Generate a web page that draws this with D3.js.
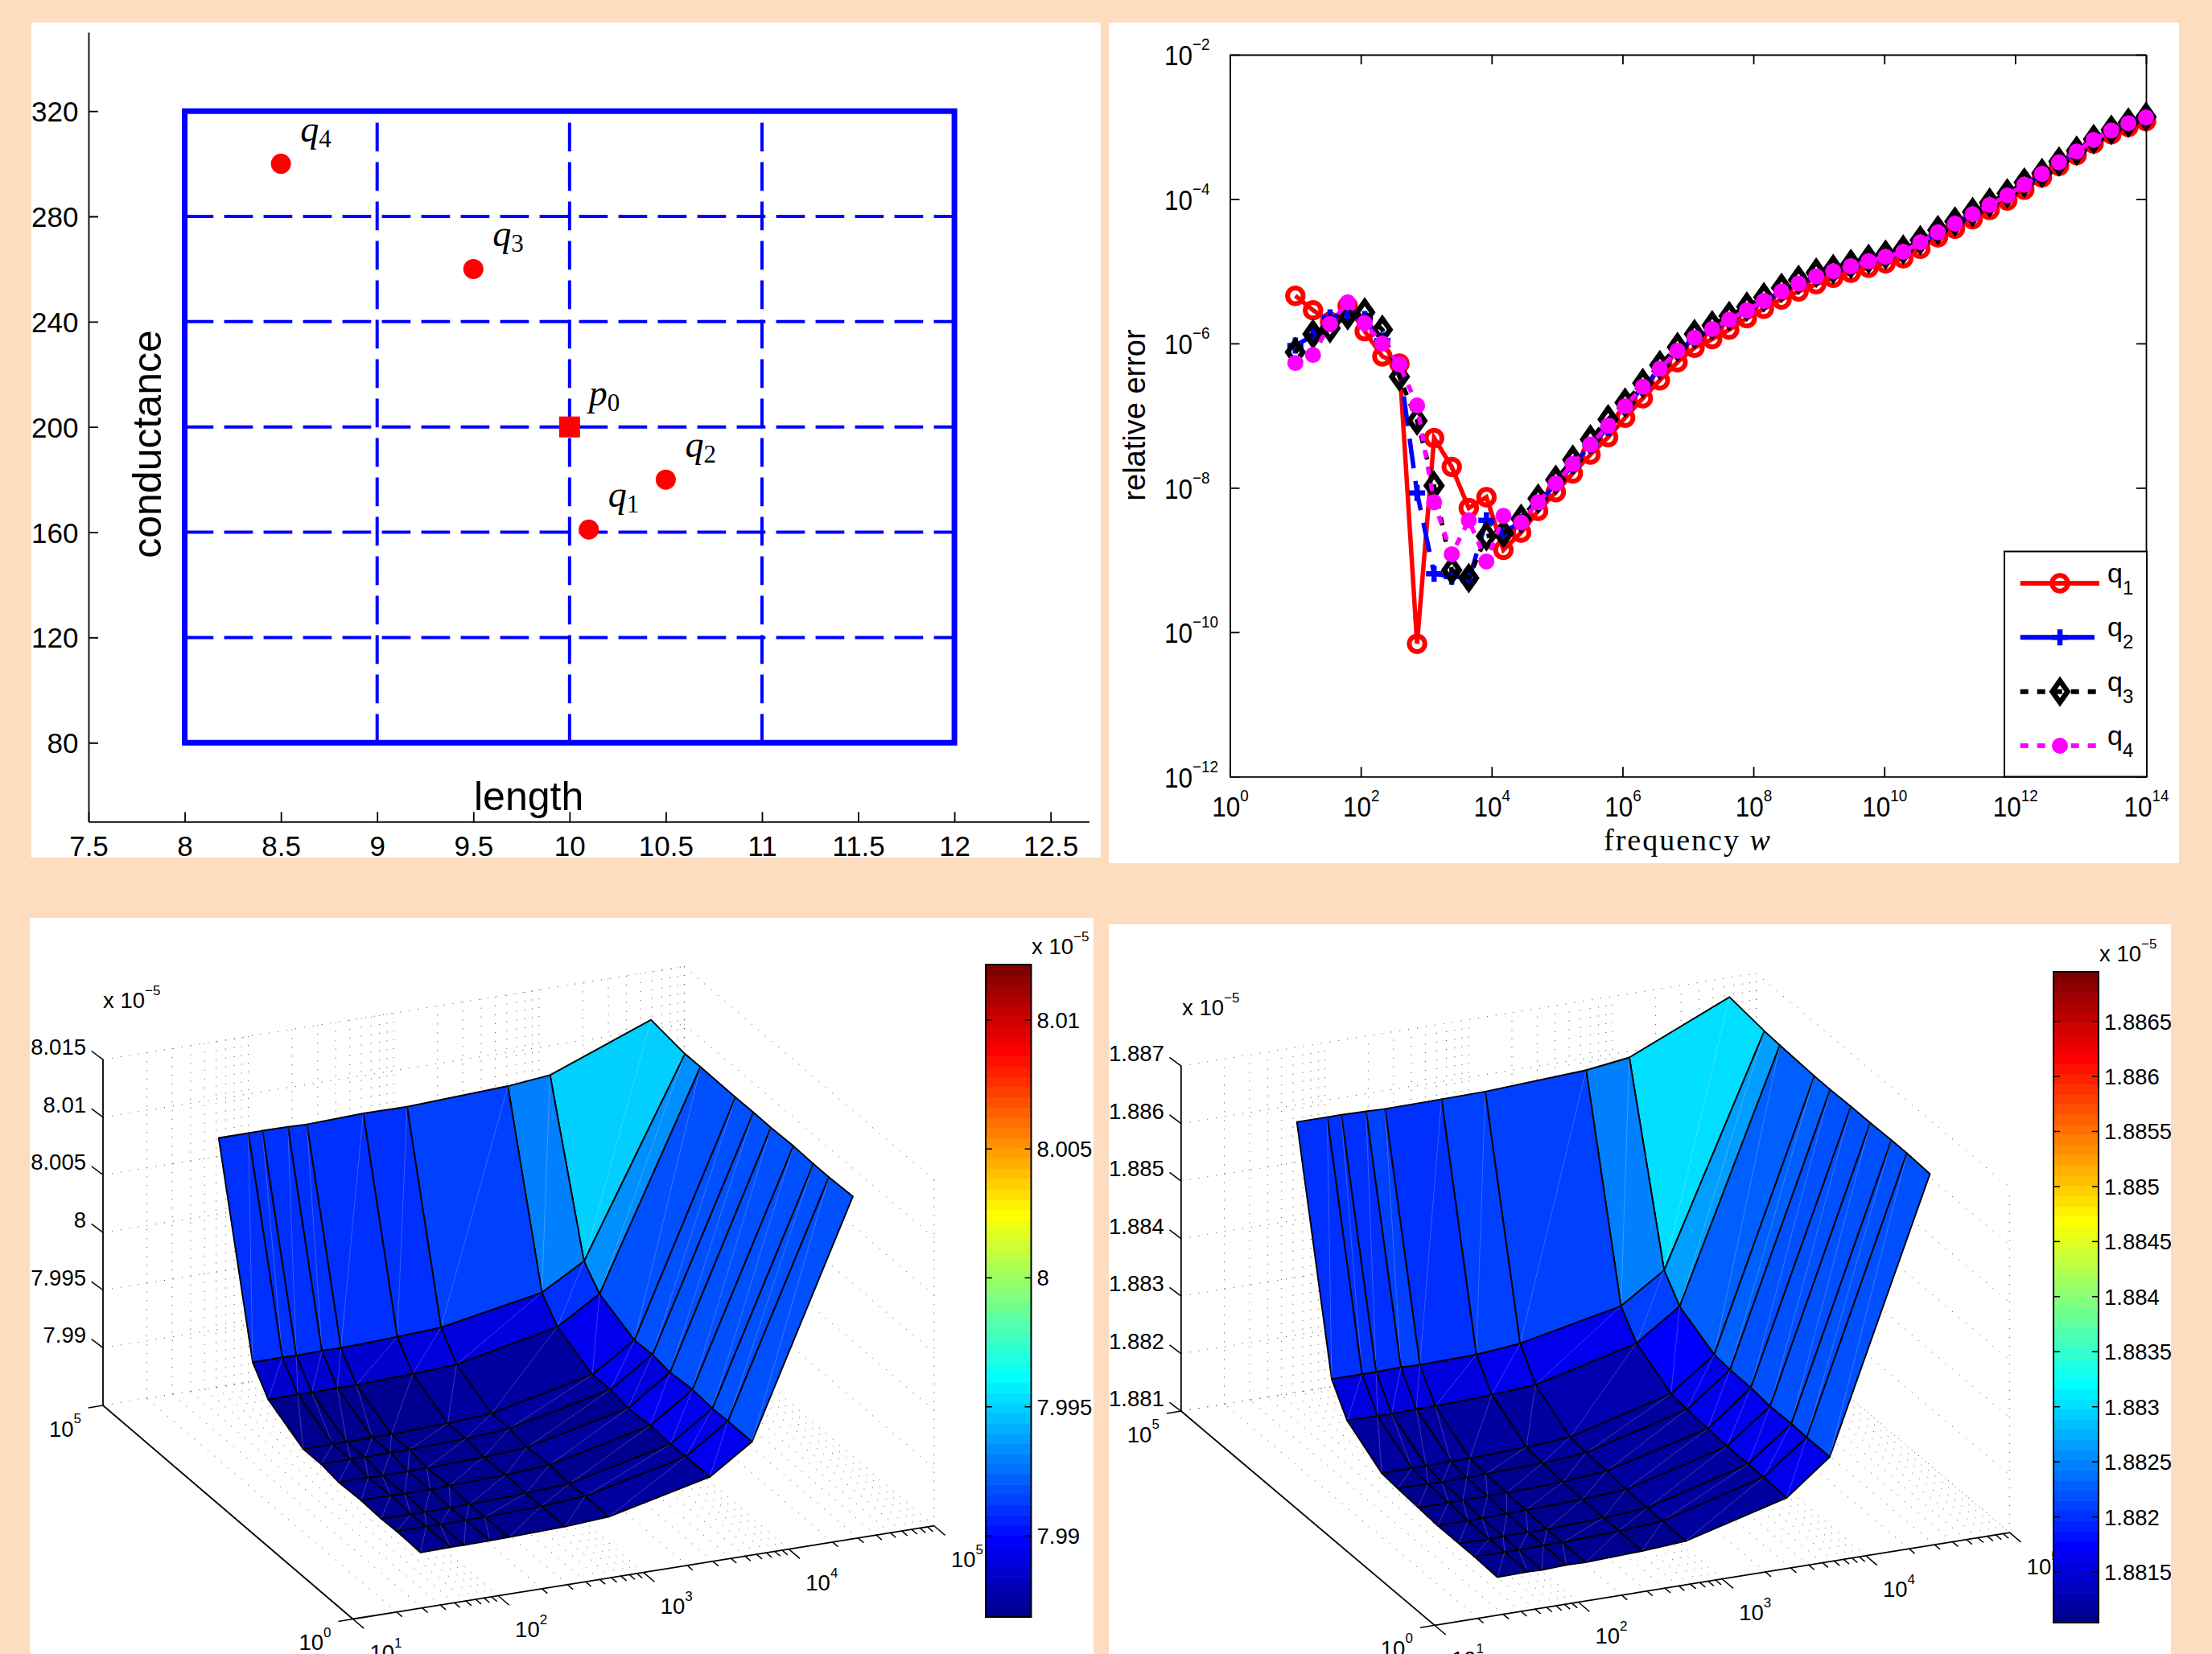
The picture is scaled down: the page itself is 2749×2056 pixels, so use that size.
<!DOCTYPE html>
<html>
<head>
<meta charset="utf-8">
<script src="https://cdnjs.cloudflare.com/ajax/libs/d3/7.8.5/d3.min.js"></script>
<style>
body { margin: 0; background: #fddcc0; }
svg { display: block; }
text { font-family: "Liberation Sans", sans-serif; fill: #000; }
</style>
</head>
<body>
<div id="viz"></div>
<script>
// top left: parameter domain
const lengthTicks = [7.5, 8, 8.5, 9, 9.5, 10, 10.5, 11, 11.5, 12, 12.5];
const condTicks = [80, 120, 160, 200, 240, 280, 320];
const gridLengths = [9, 10, 11];
const gridConds = [120, 160, 200, 240, 280];
const sampleNames = ["1", "2", "3", "4"];
const sampleLength = [10.1, 10.5, 9.5, 8.5];
const sampleCond = [161, 180, 260, 300];

// top right: relative error, exponents
const freqTicks = [1, 1e2, 1e4, 1e6, 1e8, 1e10, 1e12, 1e14];
const errTicks = [1e-12, 1e-10, 1e-8, 1e-6, 1e-4, 1e-2];
const freqExp = [1.00, 1.27, 1.53, 1.80, 2.06, 2.33, 2.59, 2.86, 3.12, 3.39,
    3.65, 3.92, 4.18, 4.45, 4.71, 4.98, 5.24, 5.51, 5.78, 6.04,
    6.31, 6.57, 6.84, 7.10, 7.37, 7.63, 7.90, 8.16, 8.43, 8.69,
    8.96, 9.22, 9.49, 9.76, 10.02, 10.29, 10.55, 10.82, 11.08, 11.35,
    11.61, 11.88, 12.14, 12.41, 12.67, 12.94, 13.20, 13.47, 13.73, 14.00];
const q1Err = [-5.34, -5.54, -5.70, -5.48, -5.83, -6.18, -6.28, -10.16, -7.31, -7.71,
    -8.28, -8.13, -8.86, -8.62, -8.32, -8.06, -7.80, -7.54, -7.30, -7.03,
    -6.76, -6.51, -6.26, -6.06, -5.94, -5.81, -5.65, -5.52, -5.39, -5.28,
    -5.18, -5.09, -5.02, -4.95, -4.89, -4.82, -4.69, -4.53, -4.41, -4.28,
    -4.15, -4.02, -3.87, -3.70, -3.54, -3.39, -3.23, -3.10, -3.00, -2.92];
const q2Err = [-6.03, -5.89, -5.64, -5.59, -5.66, -5.96, -6.29, -8.07, -9.19, -9.23,
    -9.28, -8.45, -8.62, -8.47, -8.21, -7.95, -7.69, -7.41, -7.17, -6.88,
    -6.61, -6.36, -6.11, -5.93, -5.81, -5.68, -5.55, -5.42, -5.29, -5.18,
    -5.08, -5.01, -4.94, -4.87, -4.81, -4.74, -4.61, -4.47, -4.35, -4.22,
    -4.09, -3.96, -3.81, -3.66, -3.50, -3.35, -3.19, -3.06, -2.96, -2.88];
const q3Err = [-6.12, -5.87, -5.79, -5.61, -5.57, -5.81, -6.46, -7.07, -7.97, -9.14,
    -9.25, -8.67, -8.63, -8.43, -8.15, -7.89, -7.61, -7.33, -7.05, -6.82,
    -6.55, -6.30, -6.05, -5.87, -5.75, -5.62, -5.49, -5.36, -5.23, -5.12,
    -5.02, -4.97, -4.90, -4.83, -4.77, -4.70, -4.57, -4.43, -4.31, -4.18,
    -4.05, -3.92, -3.77, -3.64, -3.48, -3.33, -3.17, -3.04, -2.94, -2.86];
const q4Err = [-6.27, -6.16, -5.73, -5.43, -5.72, -6.00, -6.29, -6.86, -8.20, -8.92,
    -8.45, -9.02, -8.39, -8.48, -8.20, -7.94, -7.67, -7.40, -7.14, -6.87,
    -6.60, -6.35, -6.10, -5.92, -5.80, -5.67, -5.54, -5.41, -5.28, -5.17,
    -5.07, -5.00, -4.93, -4.86, -4.80, -4.73, -4.60, -4.46, -4.34, -4.21,
    -4.08, -3.95, -3.80, -3.65, -3.49, -3.34, -3.18, -3.05, -2.95, -2.87];

// bottom left surface, rows go from low y to high y
const leftGridX = [1.703, 1.907, 2.003, 2.179, 2.31, 2.698, 2.999, 3.693, 3.983, 4.678];
const leftGridY = [0.689, 1.169, 1.479, 1.879, 2.329, 2.679, 3.039, 3.739, 4.049, 4.729];
const leftSurface = [
    [7.98679, 7.98684, 7.98683, 7.98687, 7.98689, 7.98703, 7.98728, 7.98933, 7.99179, 8.01168],
    [7.98687, 7.98685, 7.98682, 7.98684, 7.98686, 7.98702, 7.98727, 7.98932, 7.99180, 8.01157],
    [7.98680, 7.98676, 7.98677, 7.98679, 7.98681, 7.98699, 7.98722, 7.98924, 7.99175, 8.01157],
    [7.98691, 7.98691, 7.98688, 7.98688, 7.98696, 7.98711, 7.98736, 7.98938, 7.99191, 8.01164],
    [7.98682, 7.98680, 7.98677, 7.98679, 7.98680, 7.98697, 7.98722, 7.98920, 7.99173, 8.01156],
    [7.98709, 7.98709, 7.98708, 7.98712, 7.98711, 7.98728, 7.98756, 7.98953, 7.99197, 8.01159],
    [7.98708, 7.98706, 7.98705, 7.98709, 7.98711, 7.98728, 7.98753, 7.98950, 7.99189, 8.01157],
    [7.98878, 7.98878, 7.98877, 7.98879, 7.98881, 7.98897, 7.98918, 7.99104, 7.99331, 8.01161],
    [7.99084, 7.99085, 7.99081, 7.99088, 7.99085, 7.99104, 7.99124, 7.99287, 7.99500, 8.01159],
    [8.00779, 8.00780, 8.00781, 8.00779, 8.00774, 8.00791, 8.00788, 8.00827, 8.00864, 8.01203]
];
const leftZTicks = [7.99, 7.995, 8, 8.005, 8.01, 8.015];
const leftCbTicks = [7.99, 7.995, 8, 8.005, 8.01];

// bottom right surface
const rightGridX = [1.683, 1.894, 1.992, 2.164, 2.296, 2.689, 2.993, 3.695, 3.995, 4.692];
const rightGridY = [0.699, 1.154, 1.459, 1.877, 2.257, 2.667, 2.979, 3.661, 3.966, 4.653];
const rightSurface = [
    [1.88104, 1.88105, 1.88104, 1.88106, 1.88105, 1.88109, 1.88114, 1.88161, 1.88220, 1.88684],
    [1.88106, 1.88105, 1.88105, 1.88106, 1.88106, 1.88110, 1.88115, 1.88163, 1.88220, 1.88686],
    [1.88106, 1.88105, 1.88106, 1.88106, 1.88106, 1.88110, 1.88115, 1.88163, 1.88221, 1.88686],
    [1.88106, 1.88106, 1.88106, 1.88107, 1.88108, 1.88111, 1.88116, 1.88163, 1.88220, 1.88685],
    [1.88109, 1.88109, 1.88109, 1.88109, 1.88110, 1.88113, 1.88120, 1.88165, 1.88224, 1.88685],
    [1.88112, 1.88111, 1.88110, 1.88111, 1.88112, 1.88115, 1.88121, 1.88168, 1.88225, 1.88684],
    [1.88115, 1.88115, 1.88115, 1.88116, 1.88116, 1.88120, 1.88125, 1.88172, 1.88228, 1.88684],
    [1.88156, 1.88155, 1.88155, 1.88156, 1.88156, 1.88160, 1.88165, 1.88209, 1.88261, 1.88687],
    [1.88205, 1.88205, 1.88205, 1.88206, 1.88205, 1.88207, 1.88214, 1.88251, 1.88301, 1.88689],
    [1.88601, 1.88601, 1.88601, 1.88600, 1.88599, 1.88600, 1.88601, 1.88610, 1.88620, 1.88697]
];
const rightZTicks = [1.881, 1.882, 1.883, 1.884, 1.885, 1.886, 1.887];
const rightCbTicks = [1.8815, 1.882, 1.8825, 1.883, 1.8835, 1.884, 1.8845, 1.885, 1.8855, 1.886, 1.8865];

const svg = d3.select("#viz").append("svg")
    .attr("width", 2749)
    .attr("height", 2056);

let clipCount = 0;
const addPanel = function(x, y, w, h) {
    const id = "clip" + (clipCount++);
    svg.append("clipPath").attr("id", id)
        .append("rect").attr("x", x).attr("y", y).attr("width", w).attr("height", h);
    const g = svg.append("g").attr("clip-path", `url(#${id})`);
    g.append("rect").attr("x", x).attr("y", y).attr("width", w).attr("height", h).attr("fill", "#fff");
    return g;
}

// "10" with a raised exponent
const powerText = function(sel, exp, size, dy) {
    sel.text("10");
    sel.append("tspan").attr("dy", dy).attr("font-size", size).text(exp);
}

const styleAxis = function(g, width) {
    g.selectAll("path, line").attr("stroke", "#000").attr("stroke-width", width);
}

/* ---------- top left ---------- */
const drawDomain = function() {
    const g = addPanel(38.5, 28, 1329.5, 1038);
    const x = d3.scaleLinear().domain([7.5, 12.7]).range([110, 1353.5]);
    const y = d3.scaleLinear().domain([50, 350]).range([1021.4, 40]);

    g.append("g").attr("transform", "translate(0,1021.4)")
        .call(d3.axisBottom(x).tickValues(lengthTicks).tickFormat(d => d).tickSizeInner(-12).tickSizeOuter(0))
        .call(a => styleAxis(a, 1.8))
        .call(a => a.selectAll("text").attr("y", 43).attr("dy", 0).attr("font-size", 35));
    g.append("g").attr("transform", "translate(110,0)")
        .call(d3.axisLeft(y).tickValues(condTicks).tickSizeInner(-12).tickSizeOuter(0))
        .call(a => styleAxis(a, 1.8))
        .call(a => a.selectAll("text").attr("x", -12.5).attr("dy", 12.5).attr("font-size", 35));

    const lineH = d => g.append("line").attr("x1", x(8)).attr("x2", x(12)).attr("y1", y(d)).attr("y2", y(d));
    const lineV = d => g.append("line").attr("x1", x(d)).attr("x2", x(d)).attr("y1", y(80)).attr("y2", y(320));
    gridConds.forEach(d => lineH(d).attr("stroke", "#00f").attr("stroke-width", 4).attr("stroke-dasharray", "35.7 13.3"));
    gridLengths.forEach(d => lineV(d).attr("stroke", "#00f").attr("stroke-width", 4).attr("stroke-dasharray", "35.7 13.3"));
    g.append("rect")
        .attr("x", x(8)).attr("y", y(320))
        .attr("width", x(12) - x(8)).attr("height", y(80) - y(320))
        .attr("fill", "none").attr("stroke", "#00f").attr("stroke-width", 7);

    const mathLabel = function(px, py, letter, sub) {
        const t = g.append("text").attr("x", px).attr("y", py)
            .style("font-family", "'Liberation Serif', serif");
        t.append("tspan").attr("font-size", 46).attr("font-style", "italic").text(letter);
        t.append("tspan").attr("font-size", 31).attr("dy", 7).text(sub);
    }

    sampleNames.forEach((name, i) => {
        g.append("circle").attr("cx", x(sampleLength[i])).attr("cy", y(sampleCond[i])).attr("r", 12.5).attr("fill", "#f00");
        mathLabel(x(sampleLength[i]) + 24, y(sampleCond[i]) - 28, "q", name);
    });
    g.append("rect").attr("x", x(10) - 13).attr("y", y(200) - 13).attr("width", 26).attr("height", 26).attr("fill", "#f00");
    mathLabel(x(10) + 24, y(200) - 27, "p", "0");

    g.append("text").attr("x", 589).attr("y", 1007).attr("font-size", 50).text("length");
    g.append("text").attr("transform", "translate(200,552) rotate(-90)")
        .attr("text-anchor", "middle").attr("font-size", 50).text("conductance");
}

/* ---------- top right ---------- */
const marker = function(g, kind, px, py) {
    if (kind === "circle") {
        g.append("circle").attr("cx", px).attr("cy", py).attr("r", 9.7)
            .attr("fill", "none").attr("stroke", "#f00").attr("stroke-width", 6);
    } else if (kind === "plus") {
        g.append("path").attr("d", `M${px - 10},${py}H${px + 10}M${px},${py - 10}V${py + 10}`)
            .attr("stroke", "#00f").attr("stroke-width", 6.5);
    } else if (kind === "diamond") {
        g.append("path").attr("d", `M${px},${py - 13.5}L${px + 9.5},${py}L${px},${py + 13.5}L${px - 9.5},${py}Z`)
            .attr("fill", "none").attr("stroke", "#000").attr("stroke-width", 6.5);
    } else {
        g.append("circle").attr("cx", px).attr("cy", py).attr("r", 10).attr("fill", "#f0f");
    }
}

const drawError = function() {
    const g = addPanel(1378, 28, 1330, 1045);
    const x = d3.scaleLog().domain([1, 1e14]).range([1528.5, 2667]);
    const y = d3.scaleLog().domain([1e-12, 1e-2]).range([965.3, 68]);

    g.append("g").attr("transform", "translate(0,68)")
        .call(d3.axisTop(x).tickValues(freqTicks).tickFormat("").tickSizeInner(-12).tickSizeOuter(0))
        .call(a => styleAxis(a, 1.8));
    g.append("g").attr("transform", "translate(2667,0)")
        .call(d3.axisRight(y).tickValues(errTicks).tickFormat("").tickSizeInner(-12).tickSizeOuter(0))
        .call(a => styleAxis(a, 1.8));
    g.append("g").attr("transform", "translate(0,965.3)")
        .call(d3.axisBottom(x).tickValues(freqTicks).tickSizeInner(-12).tickSizeOuter(0))
        .call(a => styleAxis(a, 1.8))
        .call(a => a.selectAll("text").each(function(d) {
            const t = d3.select(this).attr("y", null).attr("dy", null)
                .attr("text-anchor", "middle").attr("font-size", 35)
                .attr("transform", "translate(0,50) scale(0.9,1)");
            powerText(t, Math.round(Math.log10(d)), 21, -19);
        }));
    g.append("g").attr("transform", "translate(1528.5,0)")
        .call(d3.axisLeft(y).tickValues(errTicks).tickSizeInner(-12).tickSizeOuter(0))
        .call(a => styleAxis(a, 1.8))
        .call(a => a.selectAll("text").each(function(d) {
            const t = d3.select(this).attr("x", null).attr("dy", null)
                .attr("text-anchor", "start").attr("font-size", 35)
                .attr("transform", "translate(-81.5,12.7) scale(0.9,1)");
            powerText(t, "\u2212" + Math.round(-Math.log10(d)), 21, -19);
        }));

    const series = [
        { name: "1", values: q1Err, color: "#f00", dash: null, kind: "circle" },
        { name: "2", values: q2Err, color: "#00f", dash: "37 16", kind: "plus" },
        { name: "3", values: q3Err, color: "#000", dash: "10 11", kind: "diamond" },
        { name: "4", values: q4Err, color: "#f0f", dash: "10 11", kind: "dot" }
    ];
    const line = d3.line().x(d => x(10 ** d[0])).y(d => y(10 ** d[1]));

    series.forEach(s => {
        const pts = d3.zip(freqExp, s.values);
        g.append("path").datum(pts).attr("d", line)
            .attr("fill", "none").attr("stroke", s.color).attr("stroke-width", 5.5)
            .attr("stroke-dasharray", s.dash);
        pts.forEach(p => marker(g, s.kind, x(10 ** p[0]), y(10 ** p[1])));
    });

    // legend
    g.append("rect").attr("x", 2491).attr("y", 685.5).attr("width", 177).attr("height", 280)
        .attr("fill", "#fff").attr("stroke", "#000").attr("stroke-width", 2);
    const legendY = d3.scalePoint().domain(series.map(s => s.name)).range([725, 927]);
    series.forEach(s => {
        const ly = legendY(s.name);
        g.append("line").attr("x1", 2510.7).attr("x2", s.kind === "plus" ? 2603 : 2609)
            .attr("y1", ly).attr("y2", ly)
            .attr("stroke", s.color).attr("stroke-width", 6)
            .attr("stroke-dasharray", s.kind === "plus" ? null : s.dash);
        marker(g, s.kind, 2560, ly);
        const t = g.append("text").attr("x", 2619).attr("y", ly - 1).attr("font-size", 34);
        t.append("tspan").text("q");
        t.append("tspan").attr("font-size", 24).attr("dy", 15).text(s.name);
    });

    const xl = g.append("text").attr("x", 1993).attr("y", 1057)
        .style("font-family", "'Liberation Serif', serif").attr("font-size", 38);
    xl.append("tspan").attr("letter-spacing", 2).text("frequency ");
    xl.append("tspan").attr("font-style", "italic").text("w");
    g.append("text").attr("transform", "translate(1423,516) rotate(-90)")
        .attr("text-anchor", "middle").attr("font-size", 38).text("relative error");
}

/* ---------- bottom surfaces ---------- */
// 64 level jet colormap
const jet = function(t) {
    const k = Math.min(63, Math.max(0, Math.floor(t * 64)));
    const v = (k + 1) / 64;
    const ch = c => Math.round(255 * Math.min(1, Math.max(0, 1.5 - Math.abs(4 * v - c))));
    return d3.rgb(ch(3), ch(2), ch(1)).formatHex();
}

const drawSurface = function(cfg) {
    const g = addPanel(...cfg.panel);
    const sx = d3.scaleLinear().domain([1, 5]).range([0, 1]);
    const sy = d3.scaleLinear().domain([0, 5]).range([0, 1]);
    const sz = d3.scaleLinear().domain(cfg.zDomain).range([0, cfg.zHeight]);
    const cmap = d3.scaleLinear().domain(cfg.cDomain).range([0, 1]);

    const project = function(a, b, z) {
        return [
            cfg.origin[0] + sx(a) * cfg.xVec[0] + sy(b) * cfg.yVec[0],
            cfg.origin[1] + sx(a) * cfg.xVec[1] + sy(b) * cfg.yVec[1] - sz(z)
        ];
    }
    const zLo = cfg.zDomain[0], zHi = cfg.zDomain[1];
    const seg = d3.line();
    const addSeg = function(p, q, cls) {
        return g.append("path").attr("d", seg([p, q])).attr("fill", "none").attr("class", cls);
    }

    // dotted walls and floor, the y axis only has its two end ticks
    const xGrid = d3.scaleLog().domain([10, 1e5]).ticks().map(Math.log10);
    const yEnds = [0, 5];
    const wall = g.append("g");
    const dotted = function(p, q) {
        wall.append("path").attr("d", seg([p, q])).attr("fill", "none")
            .attr("stroke", "#444").attr("stroke-width", 1).attr("stroke-dasharray", "1 10");
    }
    xGrid.forEach(a => {
        dotted(project(a, 0, zLo), project(a, 5, zLo));
        dotted(project(a, 5, zLo), project(a, 5, zHi));
    });
    yEnds.forEach(b => {
        dotted(project(1, b, zLo), project(5, b, zLo));
        dotted(project(5, b, zLo), project(5, b, zHi));
    });
    cfg.zTicks.forEach(z => {
        dotted(project(1, 5, z), project(5, 5, z));
        dotted(project(5, 5, z), project(5, 0, z));
    });

    // axes
    const black = (sel, w) => sel.attr("stroke", "#000").attr("stroke-width", w);
    black(addSeg(project(1, 5, zLo), project(1, 5, zHi)), 1.8);
    black(addSeg(project(1, 5, zLo), project(1, 0, zLo)), 1.8);
    black(addSeg(project(1, 0, zLo), project(5, 0, zLo)), 1.8);
    xGrid.forEach(a => {
        const major = Math.abs(a - Math.round(a)) < 1e-6;
        black(addSeg(project(a, 0, zLo), project(a, major ? -0.22 : -0.11, zLo)), 1.5);
    });
    yEnds.forEach(b => black(addSeg(project(1, b, zLo), project(0.9, b, zLo)), 1.5));

    cfg.zTicks.forEach(z => {
        const p = project(1, 5, z);
        black(addSeg(p, [p[0] - 14.3, p[1] - 10.7]), 1.5);
        g.append("text").attr("x", p[0] - 21).attr("y", p[1] - 6)
            .attr("text-anchor", "end").attr("font-size", 27.5).text(z);
    });
    [2, 3, 4, 5, 1].forEach(n => {
        const p = project(n, 0, zLo);
        const t = g.append("text").attr("x", p[0] + 21).attr("y", p[1] + 51.5).attr("font-size", 27.5);
        powerText(t, n, 17, -16.5);
    });
    yEnds.forEach(n => {
        const p = project(1, n, zLo);
        const t = g.append("text").attr("x", p[0] - 67).attr("y", p[1] + 38.5).attr("font-size", 27.5);
        powerText(t, n, 17, -16.5);
    });
    const scaleNote = function(px, py) {
        const t = g.append("text").attr("x", px).attr("y", py).attr("font-size", 27.5);
        t.append("tspan").text("x ");
        t.append("tspan").text("10");
        t.append("tspan").attr("font-size", 17).attr("dy", -16).text("\u22125");
    }
    scaleNote(...cfg.zNote);

    // facets, back to front, coloured by their lowest corner
    const nx = cfg.gridX.length, ny = cfg.gridY.length;
    const node = (i, j) => project(cfg.gridX[i], cfg.gridY[j], cfg.z[j][i]);
    for (let j = ny - 2; j >= 0; j--) {
        for (let i = nx - 2; i >= 0; i--) {
            const corners = [node(i, j), node(i + 1, j), node(i + 1, j + 1), node(i, j + 1)];
            g.append("path").attr("d", seg(corners) + "Z")
                .attr("fill", jet(cmap(cfg.z[j][i])))
                .attr("stroke", "#000").attr("stroke-width", 1.9).attr("stroke-linejoin", "round");
            g.append("path").attr("d", seg([corners[0], corners[2]])).attr("fill", "none")
                .attr("stroke", "#fff").attr("stroke-opacity", 0.22).attr("stroke-width", 1);
        }
    }

    // colorbar
    const cb = cfg.colorbar;
    const cy = d3.scaleLinear().domain(cfg.cDomain).range([cb.bottom, cb.top]);
    d3.range(64).forEach(k => {
        g.append("rect")
            .attr("x", cb.left).attr("width", cb.right - cb.left)
            .attr("y", cb.bottom + (cb.top - cb.bottom) * (k + 1) / 64)
            .attr("height", (cb.bottom - cb.top) / 64 + 0.6)
            .attr("fill", jet((k + 0.5) / 64));
    });
    g.append("rect").attr("x", cb.left).attr("y", cb.top)
        .attr("width", cb.right - cb.left).attr("height", cb.bottom - cb.top)
        .attr("fill", "none").attr("stroke", "#000").attr("stroke-width", 2);
    cfg.cbTicks.forEach(v => {
        black(addSeg([cb.left, cy(v)], [cb.left + 8, cy(v)]), 1.5);
        black(addSeg([cb.right - 8, cy(v)], [cb.right, cy(v)]), 1.5);
        g.append("text").attr("x", cb.right + 7).attr("y", cy(v) + 10)
            .attr("font-size", 27.5).text(v);
    });
    scaleNote(...cfg.cNote);
}

drawDomain();
drawError();
drawSurface({
    panel: [37, 1141, 1322, 915],
    origin: [438.5, 2012.5],
    xVec: [722.4, -115.8],
    yVec: [-310.5, -265.5],
    zHeight: 429.8,
    zDomain: [7.985, 8.015],
    cDomain: [7.98685, 8.01215],
    gridX: leftGridX,
    gridY: leftGridY,
    z: leftSurface,
    zTicks: leftZTicks,
    cbTicks: leftCbTicks,
    zNote: [128, 1253],
    cNote: [1282, 1186],
    colorbar: { left: 1225, right: 1281.5, top: 1199, bottom: 2010 }
});
drawSurface({
    panel: [1378, 1149, 1320, 907],
    origin: [1782.8, 2020.3],
    xVec: [714.8, -115.2],
    yVec: [-315, -266.25],
    zHeight: 429,
    zDomain: [1.881, 1.887],
    cDomain: [1.88104, 1.88695],
    gridX: rightGridX,
    gridY: rightGridY,
    z: rightSurface,
    zTicks: rightZTicks,
    cbTicks: rightCbTicks,
    zNote: [1469, 1262],
    cNote: [2609, 1194.5],
    colorbar: { left: 2552, right: 2608, top: 1208, bottom: 2017 }
});
</script>
</body>
</html>
